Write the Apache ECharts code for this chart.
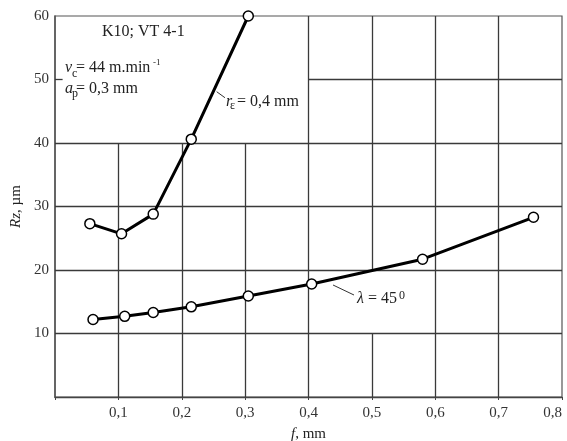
<!DOCTYPE html>
<html>
<head>
<meta charset="utf-8">
<script src="https://cdn.jsdelivr.net/npm/echarts@6/dist/echarts.min.js"></script>
<style>
  html, body { margin: 0; padding: 0; background: #fff; }
  #chart { width: 567px; height: 441px; }
</style>
</head>
<body>
<div id="chart"></div>
<script>
// Surface roughness Rz versus feed f
const feedRadius = [0.055, 0.105, 0.155, 0.215, 0.305];
const rzRadius = [27.3, 25.7, 28.8, 40.6, 60];
const feedLambda = [0.06, 0.11, 0.155, 0.215, 0.305, 0.405, 0.58, 0.755];
const rzLambda = [12.2, 12.7, 13.3, 14.2, 15.9, 17.8, 21.7, 28.3];

const xTickLabels = ['', '0,1', '0,2', '0,3', '0,4', '0,5', '0,6', '0,7', '0,8'];
const yTickLabels = ['', '10', '20', '30', '40', '50', '60'];

// Grid segments in data units: [level, from, to]
const hGrid = [[50, 0.4, 0.8], [40, 0, 0.8], [30, 0, 0.8], [20, 0, 0.8], [10, 0, 0.8], [50, 0, 0.012]];
const vGrid = [[0.1, 0, 40], [0.2, 0, 40], [0.3, 0, 40], [0.4, 0, 60], [0.5, 0, 10], [0.5, 20, 60], [0.6, 0, 60], [0.7, 0, 60]];

const SERIF = '"Liberation Serif", "DejaVu Serif", serif';
const INK = '#222';

const pairs = (xs, ys) => xs.map((x, i) => [x, ys[i]]);

const gridLines = [];
hGrid.forEach(([y, a, b]) => gridLines.push([{ coord: [a, y] }, { coord: [b, y] }]));
vGrid.forEach(([x, a, b]) => gridLines.push([{ coord: [x, a] }, { coord: [x, b] }]));

const curveStyle = {
  type: 'line',
  symbol: 'circle',
  symbolSize: 10,
  lineStyle: { color: '#000', width: 3 },
  itemStyle: { color: '#fff', borderColor: '#000', borderWidth: 1.5 },
  z: 5,
  silent: true,
  animation: false
};

const chart = echarts.init(document.getElementById('chart'), null, { renderer: 'canvas' });

chart.setOption({
  animation: false,
  backgroundColor: '#fff',
  grid: {
    left: 55, right: 5, top: 16, bottom: 44,
    containLabel: false,
    outerBoundsMode: 'none',
    show: true,
    borderColor: '#555',
    borderWidth: 1.2
  },
  xAxis: {
    type: 'value',
    min: 0, max: 0.8, interval: 0.1,
    splitLine: { show: false },
    axisLine: { show: true, lineStyle: { color: '#444', width: 1.3 } },
    axisTick: { show: true, length: 3, lineStyle: { color: '#444' } },
    axisLabel: {
      margin: 9,
      color: '#333',
      fontFamily: SERIF,
      fontSize: 15,
      alignMaxLabel: 'right',
      formatter: v => xTickLabels[Math.round(v * 10)]
    },
    name: '{i|f}, mm',
    nameLocation: 'middle',
    nameGap: 30,
    nameTextStyle: {
      color: INK, fontFamily: SERIF, fontSize: 15,
      rich: { i: { fontStyle: 'italic', fontFamily: SERIF, fontSize: 15, color: INK } }
    }
  },
  yAxis: {
    type: 'value',
    min: 0, max: 60, interval: 10,
    splitLine: { show: false },
    axisLine: { show: true, lineStyle: { color: '#555', width: 1.5 } },
    axisTick: { show: false },
    axisLabel: {
      margin: 6,
      color: '#333',
      fontFamily: SERIF,
      fontSize: 15,
      formatter: v => yTickLabels[Math.round(v / 10)]
    },
    name: '{i|Rz}, µm',
    nameLocation: 'middle',
    nameGap: 31,
    nameRotate: 90,
    nameTextStyle: {
      color: INK, fontFamily: SERIF, fontSize: 15,
      rich: { i: { fontStyle: 'italic', fontFamily: SERIF, fontSize: 15, color: INK } }
    }
  },
  series: [
    {
      type: 'line',
      data: [],
      silent: true,
      z: 1,
      markLine: {
        silent: true,
        symbol: ['none', 'none'],
        label: { show: false },
        lineStyle: { type: 'solid', color: '#3a3a3a', width: 1.3 },
        emphasis: { disabled: true },
        data: gridLines,
        animation: false
      }
    },
    Object.assign({ name: 'r0.4', data: pairs(feedRadius, rzRadius) }, curveStyle),
    Object.assign({ name: 'lambda45', data: pairs(feedLambda, rzLambda) }, curveStyle)
  ]
});

// Annotations placed at data-space anchors
const at = (x, y) => chart.convertToPixel({ gridIndex: 0 }, [x, y]);

function text(pos, str, size, italic) {
  const p = at(pos[0], pos[1]);
  return {
    type: 'text', x: p[0], y: p[1], silent: true, z: 10,
    style: {
      text: str, fill: INK, fontFamily: SERIF, fontSize: size,
      fontStyle: italic ? 'italic' : 'normal',
      align: 'left', verticalAlign: 'middle'
    }
  };
}
function leader(a, b) {
  const p = at(a[0], a[1]), q = at(b[0], b[1]);
  return {
    type: 'line', silent: true, z: 10,
    shape: { x1: p[0], y1: p[1], x2: q[0], y2: q[1] },
    style: { stroke: '#333', lineWidth: 1 }
  };
}

chart.setOption({
  graphic: [
    text([0.0742, 57.5], 'K10; VT 4-1', 16, false),
    text([0.0158, 51.9], 'v', 16, true),
    text([0.0268, 50.9], 'c', 12, false),
    text([0.0331, 51.9], '= 44 m.min', 16, false),
    text([0.1545, 52.7], '-1', 9, false),
    text([0.0158, 48.6], 'a', 16, true),
    text([0.0268, 47.7], 'p', 12, false),
    text([0.0331, 48.6], '= 0,3 mm', 16, false),
    leader([0.2551, 48.08], [0.2682, 47.13]),
    text([0.2698, 46.5], 'r', 16, true),
    text([0.2761, 45.8], 'ε', 12, false),
    text([0.2872, 46.5], '= 0,4 mm', 16, false),
    leader([0.4387, 17.64], [0.4718, 16.06]),
    text([0.4765, 15.4], 'λ', 16, true),
    text([0.4939, 15.4], '= 45', 16, false),
    text([0.5428, 15.9], '0', 12, false)
  ]
});
</script>
</body>
</html>
